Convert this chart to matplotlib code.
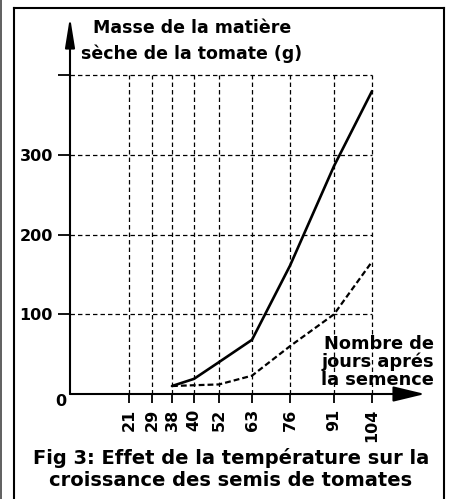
import matplotlib
matplotlib.use("Agg")
from matplotlib import pyplot as plt
from matplotlib.lines import Line2D

# days after sowing (x categories) and dry mass of the tomato (g)
days = [21, 29, 38, 40, 52, 63, 76, 91, 104]
days_curve = [38, 40, 52, 63, 76, 91, 104]
mass_solid = [10, 19, 40, 68, 161, 286, 380]
mass_dashed = [10, 11, 12, 23, 60, 100, 166]
y_grid = [100, 200, 300, 400]
y_labels = ["100", "200", "300", ""]

# horizontal slot of each day on the drawing (uneven spacing)
day_pos = [59, 82, 102, 124, 149, 182, 220, 264, 302]
pos_of = dict(zip(days, day_pos))

plt.rcParams["font.family"] = "DejaVu Sans"
plt.rcParams["font.weight"] = "bold"
plt.rcParams["lines.scale_dashes"] = False

W, H = 449, 499
fig = plt.figure(figsize=(W / 100, H / 100), dpi=100)


def fx(px):
    return px / W


def fy(py):
    return 1 - py / H


ax = fig.add_axes([fx(70), fy(394), fx(425) - fx(70), fy(17) - fy(394)])
ax.set_xlim(0, 355)
ax.set_ylim(0, 473)
for s in ax.spines.values():
    s.set_visible(False)
ax.patch.set_visible(False)

# dashed grid
grid_kw = dict(color="black", lw=0.9, linestyle=(0, (3.2, 2.2)), zorder=1)
for v in y_grid:
    ax.plot([0, day_pos[-1]], [v, v], **grid_kw)
for p in day_pos:
    ax.plot([p, p], [0, y_grid[-1]], **grid_kw)

# curves
xs = [pos_of[d] for d in days_curve]
ax.plot(xs, mass_solid, color="black", lw=1.9, solid_capstyle="round", zorder=3)
ax.plot(xs, mass_dashed, color="black", lw=1.6, linestyle=(0, (4.2, 2.2)), zorder=3)

# axes with arrow heads
ax.annotate("", xy=(355, 0), xytext=(0, 0), annotation_clip=False,
            arrowprops=dict(arrowstyle="-|>,head_length=1.95,head_width=0.47",
                            lw=1.5, color="black", shrinkA=0, shrinkB=0))
ax.annotate("", xy=(0, 473), xytext=(0, 0), annotation_clip=False,
            arrowprops=dict(arrowstyle="-|>,head_length=1.8,head_width=0.29",
                            lw=1.5, color="black", shrinkA=0, shrinkB=0))

ax.set_yticks(y_grid, labels=y_labels)
ax.set_xticks(day_pos, labels=[str(d) for d in days], rotation=90)
ax.tick_params(axis="y", direction="out", length=8.6, width=1.3, pad=3.6,
               labelsize=11.5)
ax.tick_params(axis="x", direction="out", length=6.5, width=1.3, pad=4,
               labelsize=11.5)
for lab in ax.get_xticklabels() + ax.get_yticklabels():
    lab.set_fontweight("bold")

fig.text(fx(61), fy(402), "0", ha="center", va="center", fontsize=11.5,
         fontweight="bold")

fig.text(fx(192), fy(41), "Masse de la matière\nsèche de la tomate (g)",
         ha="center", va="center", ma="center", fontsize=12.5,
         fontweight="bold", linespacing=1.45)
fig.text(fx(434), fy(362), "Nombre de\njours aprés\nla semence",
         ha="right", va="center", ma="right", fontsize=12.8,
         fontweight="bold", linespacing=1.0)
fig.text(fx(231), fy(469), "Fig 3: Effet de la température sur la\n"
         "croissance des semis de tomates", ha="center", va="center",
         ma="center", fontsize=14, fontweight="bold", linespacing=1.25)

# frame
frame_kw = dict(color="black", lw=1.5, transform=fig.transFigure)
fig.add_artist(Line2D([fx(13.5), fx(13.5)], [fy(8), 0], **frame_kw))
fig.add_artist(Line2D([fx(13.5), fx(444)], [fy(8), fy(8)], **frame_kw))
fig.add_artist(Line2D([fx(444), fx(444)], [fy(8), 0], **frame_kw))
fig.add_artist(Line2D([fx(1), fx(1)], [1, 0], color="#444444", lw=1.2,
                      transform=fig.transFigure))

fig.savefig("out.png", dpi=100)
